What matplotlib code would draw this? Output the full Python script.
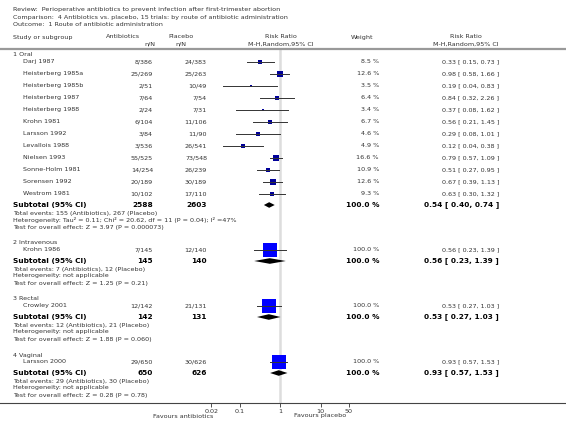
import numpy as np
import matplotlib
matplotlib.use('Agg')
import matplotlib.pyplot as plt
from matplotlib.lines import Line2D
from matplotlib.transforms import blended_transform_factory

# ----------------------------------------------------------------------
# data
# ----------------------------------------------------------------------
title_lines = [
    'Review:  Perioperative antibiotics to prevent infection after first-trimester abortion',
    'Comparison:  4 Antibiotics vs. placebo, 15 trials: by route of antibiotic administration',
    'Outcome:  1 Route of antibiotic administration',
]

group_names = ['1 Oral', '2 Intravenous', '3 Rectal', '4 Vaginal']

studies = [
    ['Darj 1987', 'Heisterberg 1985a', 'Heisterberg 1985b', 'Heisterberg 1987',
     'Heisterberg 1988', 'Krohn 1981', 'Larsson 1992', 'Levallois 1988',
     'Nielsen 1993', 'Sonne-Holm 1981', 'Sorensen 1992', 'Westrom 1981'],
    ['Krohn 1986'],
    ['Crowley 2001'],
    ['Larsson 2000'],
]
antibiotics_nN = [
    ['8/386', '25/269', '2/51', '7/64', '2/24', '6/104', '3/84', '3/536',
     '55/525', '14/254', '20/189', '10/102'],
    ['7/145'], ['12/142'], ['29/650'],
]
placebo_nN = [
    ['24/383', '25/263', '10/49', '7/54', '7/31', '11/106', '11/90', '26/541',
     '73/548', '26/239', '30/189', '17/110'],
    ['12/140'], ['21/131'], ['30/626'],
]
weights = [
    [8.5, 12.6, 3.5, 6.4, 3.4, 6.7, 4.6, 4.9, 16.6, 10.9, 12.6, 9.3],
    [100.0], [100.0], [100.0],
]
rr = [
    [0.33, 0.98, 0.19, 0.84, 0.37, 0.56, 0.29, 0.12, 0.79, 0.51, 0.67, 0.63],
    [0.56], [0.53], [0.93],
]
rr_lo = [
    [0.15, 0.58, 0.04, 0.32, 0.08, 0.21, 0.08, 0.04, 0.57, 0.27, 0.39, 0.30],
    [0.23], [0.27], [0.57],
]
rr_hi = [
    [0.73, 1.66, 0.83, 2.26, 1.62, 1.45, 1.01, 0.38, 1.09, 0.95, 1.13, 1.32],
    [1.39], [1.03], [1.53],
]

sub_anti_N = [2588, 145, 142, 650]
sub_plac_N = [2603, 140, 131, 626]
sub_rr = [0.54, 0.56, 0.53, 0.93]
sub_lo = [0.40, 0.23, 0.27, 0.57]
sub_hi = [0.74, 1.39, 1.03, 1.53]

footnotes = [
    ['Total events: 155 (Antibiotics), 267 (Placebo)',
     'Heterogeneity: Tau\u00b2 = 0.11; Chi\u00b2 = 20.62, df = 11 (P = 0.04); I\u00b2 =47%',
     'Test for overall effect: Z = 3.97 (P = 0.000073)'],
    ['Total events: 7 (Antibiotics), 12 (Placebo)',
     'Heterogeneity: not applicable',
     'Test for overall effect: Z = 1.25 (P = 0.21)'],
    ['Total events: 12 (Antibiotics), 21 (Placebo)',
     'Heterogeneity: not applicable',
     'Test for overall effect: Z = 1.88 (P = 0.060)'],
    ['Total events: 29 (Antibiotics), 30 (Placebo)',
     'Heterogeneity: not applicable',
     'Test for overall effect: Z = 0.28 (P = 0.78)'],
]

ticks = [0.02, 0.1, 1, 10, 50]
tick_labels = ['0.02', '0.1', '1', '10', '50']

# ----------------------------------------------------------------------
# layout (pixel units, y measured from the top)
# ----------------------------------------------------------------------
W, H = 566, 433
AXIS_Y = 403
HEAD_Y = 49
FS = 4.6        # normal text
FSB = 5.3       # bold subtotal text
TXT = '#333333'

fig = plt.figure(figsize=(W / 100, H / 100), dpi=100)
ax = fig.add_axes([199 / W, 1 - AXIS_Y / H, 162 / W, (AXIS_Y - HEAD_Y) / H])
ax.set_xscale('log')
ax.set_xlim(0.01, 100)
ax.set_ylim(AXIS_Y, HEAD_Y)
for s in ax.spines.values():
    s.set_visible(False)
ax.set_yticks([])
ax.set_xticks(ticks)
ax.set_xticklabels(tick_labels)
ax.minorticks_off()
ax.tick_params(axis='x', length=3, width=0.6, pad=1, labelsize=FS,
               colors='#333333')

tr = blended_transform_factory(fig.transFigure, ax.transData)


def put(xpx, y, s, ha='left', bold=False, size=None, color=None):
    ax.text(xpx / W, y, s, transform=tr, ha=ha, va='center',
            fontsize=size or (FSB if bold else FS),
            fontweight='bold' if bold else 'normal',
            color=color or ('black' if bold else TXT), clip_on=False)


# title block
for i, line in enumerate(title_lines):
    fig.text(13 / W, 1 - (10 + 7 * i) / H, line, fontsize=FS, color=TXT,
             va='center')

# column headers
hdr1, hdr2 = 37, 44
fig.text(13 / W, 1 - hdr1 / H, 'Study or subgroup', fontsize=FS, color=TXT, va='center')
fig.text(140 / W, 1 - hdr1 / H, 'Antibiotics', fontsize=FS, color=TXT, va='center', ha='right')
fig.text(155 / W, 1 - hdr2 / H, 'n/N', fontsize=FS, color=TXT, va='center', ha='right')
fig.text(181 / W, 1 - hdr1 / H, 'Placebo', fontsize=FS, color=TXT, va='center', ha='center')
fig.text(181 / W, 1 - hdr2 / H, 'n/N', fontsize=FS, color=TXT, va='center', ha='center')
fig.text(281 / W, 1 - hdr1 / H, 'Risk Ratio', fontsize=FS, color=TXT, va='center', ha='center')
fig.text(281 / W, 1 - hdr2 / H, 'M-H,Random,95% CI', fontsize=FS, color=TXT, va='center', ha='center')
fig.text(362 / W, 1 - hdr1 / H, 'Weight', fontsize=FS, color=TXT, va='center', ha='center')
fig.text(466 / W, 1 - hdr1 / H, 'Risk Ratio', fontsize=FS, color=TXT, va='center', ha='center')
fig.text(466 / W, 1 - hdr2 / H, 'M-H,Random,95% CI', fontsize=FS, color=TXT, va='center', ha='center')

# header rule and axis rule across the full width
fig.add_artist(Line2D([0, 1], [1 - HEAD_Y / H] * 2, transform=fig.transFigure,
                      color='#999999', lw=1.6))
fig.add_artist(Line2D([0, 1], [1 - AXIS_Y / H] * 2, transform=fig.transFigure,
                      color='#444444', lw=0.8))

# line of no effect
ax.axvline(1, color='#dddddd', lw=1.8, zorder=0)

# rows
y = 55
for g in range(len(group_names)):
    put(13, y, group_names[g])
    y += 6.5
    for i, name in enumerate(studies[g]):
        w = weights[g][i]
        side = 1.45 * np.sqrt(w) * 72 / 100
        col = '#0000ff' if w >= 50 else '#000099'
        ax.plot([rr[g][i]], [y], marker='s', ms=side, color=col, mec=col,
                mew=0, ls='none', zorder=2)
        ax.plot([rr_lo[g][i], rr_hi[g][i]], [y, y], color='#333333', lw=0.7,
                zorder=3)
        put(23, y, name)
        put(153, y, antibiotics_nN[g][i], ha='right')
        put(207, y, placebo_nN[g][i], ha='right')
        put(379, y, f'{w:.1f} %', ha='right')
        put(499, y, f'{rr[g][i]:.2f} [ {rr_lo[g][i]:.2f}, {rr_hi[g][i]:.2f} ]', ha='right')
        y += 12
    y -= 0.5
    # subtotal diamond
    dh = 2.8
    ax.fill([sub_lo[g], sub_rr[g], sub_hi[g], sub_rr[g]],
            [y, y - dh, y, y + dh], color='black', lw=0, zorder=3)
    put(13, y, 'Subtotal (95% CI)', bold=True)
    put(153, y, str(sub_anti_N[g]), ha='right', bold=True)
    put(207, y, str(sub_plac_N[g]), ha='right', bold=True)
    put(379, y, '100.0 %', ha='right', bold=True)
    put(499, y, f'{sub_rr[g]:.2f} [ {sub_lo[g]:.2f}, {sub_hi[g]:.2f} ]', ha='right', bold=True)
    y += 8
    for line in footnotes[g]:
        put(13, y, line)
        y += 7
    y += 9

# favours labels under the axis
put(213, 416, 'Favours antibiotics', ha='right')
put(294, 416, 'Favours placebo', ha='left')

fig.savefig('out.png', dpi=100, facecolor='white')
